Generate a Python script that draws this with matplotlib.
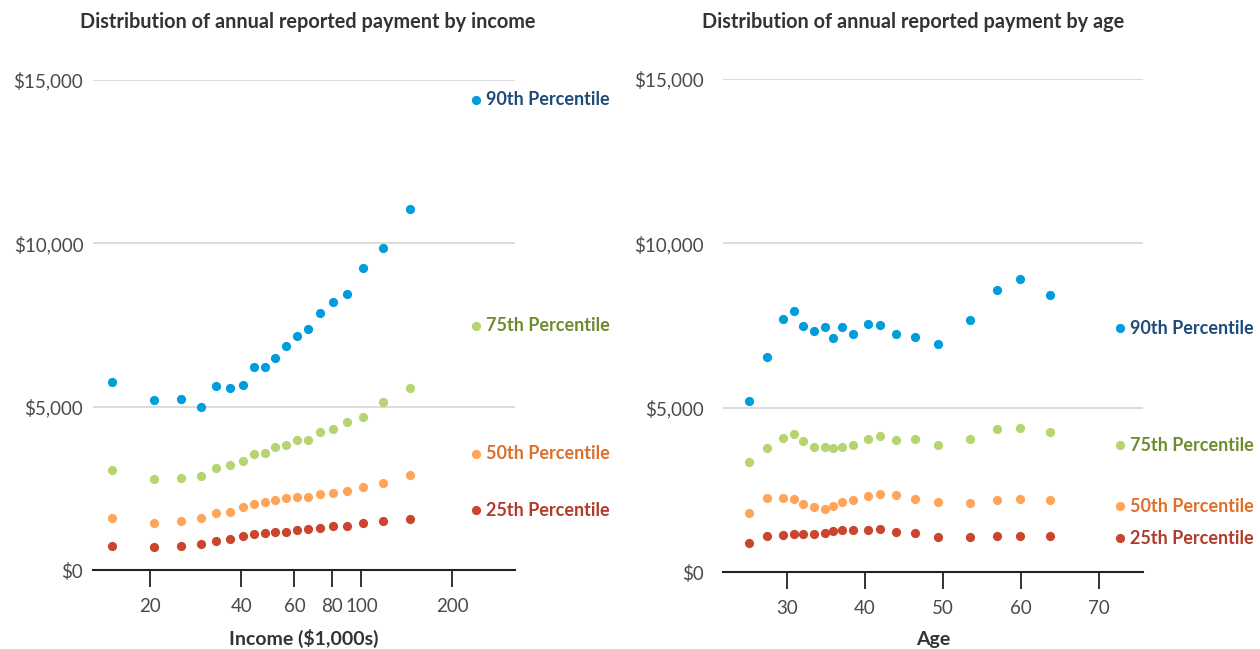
import matplotlib
matplotlib.use("Agg")
import matplotlib.pyplot as plt
from matplotlib.ticker import FixedLocator, NullLocator, FuncFormatter

# ---------------- data ----------------
income = [14.9, 20.6, 25.3, 29.4, 33.1, 36.8, 40.4, 44.1, 47.8, 51.9,
          56.3, 61.3, 66.7, 73.2, 80.4, 89.6, 101.1, 118.0, 145.3]
inc_p90 = [5750, 5210, 5250, 4980, 5620, 5570, 5670, 6200, 6200, 6480,
           6870, 7150, 7390, 7870, 8200, 8450, 9230, 9850, 11050]
inc_p75 = [3070, 2800, 2830, 2890, 3130, 3210, 3350, 3560, 3570, 3770,
           3830, 3970, 3990, 4210, 4320, 4520, 4680, 5130, 5560]
inc_p50 = [1580, 1430, 1500, 1580, 1730, 1780, 1930, 2020, 2090, 2140,
           2190, 2220, 2250, 2330, 2350, 2430, 2540, 2670, 2910]
inc_p25 = [740, 690, 740, 810, 880, 960, 1040, 1090, 1140, 1170,
           1160, 1210, 1270, 1280, 1340, 1360, 1440, 1490, 1560]

age = [25.1, 27.5, 29.5, 30.9, 32.0, 33.5, 34.9, 35.9, 37.0, 38.4,
       40.4, 41.9, 43.9, 46.4, 49.4, 53.4, 56.9, 59.9, 63.7]
age_p90 = [5190, 6550, 7700, 7930, 7500, 7340, 7440, 7130, 7440, 7240,
           7540, 7510, 7250, 7160, 6940, 7680, 8590, 8920, 8440]
age_p75 = [3350, 3780, 4070, 4210, 4000, 3810, 3810, 3780, 3790, 3860,
           4050, 4150, 4010, 4060, 3860, 4060, 4350, 4380, 4260]
age_p50 = [1800, 2260, 2250, 2230, 2080, 1970, 1920, 2010, 2140, 2200,
           2300, 2380, 2330, 2230, 2130, 2090, 2180, 2230, 2200]
age_p25 = [870, 1100, 1120, 1160, 1170, 1170, 1190, 1240, 1290, 1280,
           1290, 1320, 1220, 1190, 1080, 1080, 1100, 1100, 1110]

series_names = ["90th Percentile", "75th Percentile", "50th Percentile", "25th Percentile"]
dot_colors = ["#009ddc", "#b6d56e", "#ffa55a", "#c9452e"]
text_colors = ["#1f4b7a", "#6e8c2c", "#df6e2a", "#b13b2a"]

y_ticks = [0, 5000, 10000, 15000]
income_ticks = [20, 40, 60, 80, 100, 200]
age_ticks = [30, 40, 50, 60, 70]

# label anchor values (where the in-plot series labels sit)
inc_label_x = 240
inc_label_y = [14400, 7470, 3560, 1830]
age_label_x = 72.7
age_label_y = [7420, 3860, 2000, 1030]

# ---------------- drawing ----------------
plt.rcParams['font.family'] = ['Lato', 'DejaVu Sans']

fig = plt.figure(figsize=(12.6, 6.49), dpi=100)
axL = fig.add_axes([93/1260, 79/649, 422/1260, 490/649])
axR = fig.add_axes([723/1260, 77/649, 420/1260, 493/649])

def money(v, pos):
    return "$" + format(int(v), ",")

def style(ax, ypad):
    ax.set_ylim(0, 15000)
    ax.yaxis.set_major_locator(FixedLocator(y_ticks))
    ax.yaxis.set_major_formatter(FuncFormatter(money))
    ax.grid(axis='y', color='#dcdcdc', linewidth=1.4)
    ax.set_axisbelow(True)
    for s in ['top', 'right', 'left']:
        ax.spines[s].set_visible(False)
    ax.spines['bottom'].set_color('#222222')
    ax.spines['bottom'].set_linewidth(1.5)
    ax.tick_params(axis='y', length=0, pad=ypad, labelsize=13.5, labelcolor='#4a4a4a')
    ax.tick_params(axis='x', length=12, width=1.3, color='#222222', pad=8,
                   labelsize=13.5, labelcolor='#4a4a4a')

groupsL = [inc_p90, inc_p75, inc_p50, inc_p25]
groupsR = [age_p90, age_p75, age_p50, age_p25]

for vals, c in zip(groupsL, dot_colors):
    axL.scatter(income, vals, s=44, color=c, linewidths=0, zorder=3, clip_on=False)
for vals, c in zip(groupsR, dot_colors):
    axR.scatter(age, vals, s=44, color=c, linewidths=0, zorder=3, clip_on=False)

axL.set_xscale('log')
axL.set_xlim(12.9, 323)
axL.xaxis.set_major_locator(FixedLocator(income_ticks))
axL.xaxis.set_minor_locator(NullLocator())
axL.xaxis.set_major_formatter(FuncFormatter(lambda v, p: f"{int(v)}"))
style(axL, 7)

axR.set_xlim(21.8, 75.6)
axR.xaxis.set_major_locator(FixedLocator(age_ticks))
style(axR, 14)

# series labels
for ax, lx, lys in [(axL, inc_label_x, inc_label_y), (axR, age_label_x, age_label_y)]:
    for name, ly, dc, tc in zip(series_names, lys, dot_colors, text_colors):
        ax.scatter([lx], [ly], s=44, color=dc, linewidths=0, zorder=3, clip_on=False)
        ax.annotate(name, (lx, ly), xytext=(7, 0), textcoords='offset points',
                    va='center', ha='left', fontsize=13, fontweight='bold',
                    color=tc, annotation_clip=False)

axL.set_xlabel("Income ($1,000s)", fontsize=14, fontweight='bold', color='#333333', labelpad=10)
axR.set_xlabel("Age", fontsize=14, fontweight='bold', color='#333333', labelpad=10)

fig.text(308/1260, 1 - 22/649, "Distribution of annual reported payment by income",
         ha='center', va='center', fontsize=14.3, fontweight='bold', color='#333333')
fig.text(913/1260, 1 - 22/649, "Distribution of annual reported payment by age",
         ha='center', va='center', fontsize=14.3, fontweight='bold', color='#333333')

fig.savefig("out.png", dpi=100)
